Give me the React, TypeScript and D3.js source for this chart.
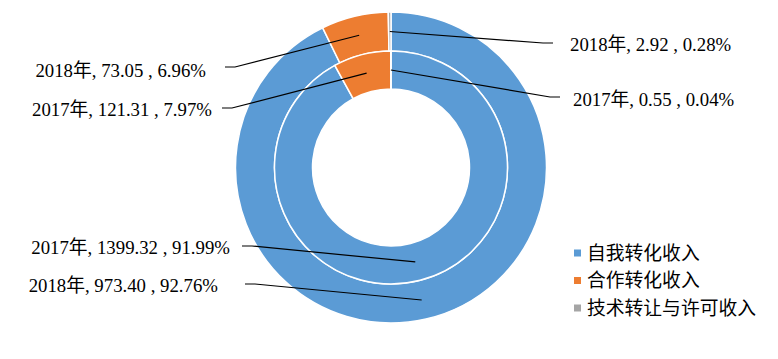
import React from "react";
import * as d3 from "d3";

const categories = ["自我转化收入", "合作转化收入", "技术转让与许可收入"];
const colors = ["#5B9BD5", "#ED7D31", "#A5A5A5"];
const values2017 = [1399.32, 121.31, 0.55];
const pct2017 = ["91.99%", "7.97%", "0.04%"];
const values2018 = [973.4, 73.05, 2.92];
const pct2018 = ["92.76%", "6.96%", "0.28%"];
const valueText2017 = ["1399.32", "121.31", "0.55"];
const valueText2018 = ["973.40", "73.05", "2.92"];

const W = 778;
const H = 359;
const cx = 391;
const cy = 167.5;
const rHole = 78.5;
const rMid = 116.5;
const rOuter = 155.5;

// label layout: [ring, index] -> label end point (line end), text anchor
const labelLayout = [
  { ring: "2018", i: 2, lx: 553, ly: 43, tx: 570, ty: 44, anchor: "start" },
  { ring: "2017", i: 2, lx: 560, ly: 97, tx: 573, ty: 99, anchor: "start" },
  { ring: "2018", i: 1, lx: 225, ly: 67, tx: 206, ty: 70, anchor: "end" },
  { ring: "2017", i: 1, lx: 222, ly: 108, tx: 212, ty: 109, anchor: "end" },
  { ring: "2017", i: 0, lx: 242, ly: 246, tx: 230, ty: 247, anchor: "end" },
  { ring: "2018", i: 0, lx: 245, ly: 284, tx: 218, ty: 285, anchor: "end" },
];

export default function App() {
  const pie = d3
    .pie<number>()
    .sort(null)
    .value((d) => d)
    .startAngle(0)
    .endAngle(2 * Math.PI);
  const arcs2017 = pie(values2017);
  const arcs2018 = pie(values2018);
  const arcInner = d3.arc<d3.PieArcDatum<number>>().innerRadius(rHole).outerRadius(rMid);
  const arcOuter = d3.arc<d3.PieArcDatum<number>>().innerRadius(rMid).outerRadius(rOuter);

  return (
    <svg
      width={W}
      height={H}
      style={{ position: "absolute", left: 0, top: 0, background: "#fff" }}
    >
      <g transform={`translate(${cx},${cy})`}>
        {arcs2018.map((a, i) => (
          <path key={"o" + i} d={arcOuter(a) || ""} fill={colors[i]} stroke="#fff" strokeWidth={1.5} />
        ))}
        {arcs2017.map((a, i) => (
          <path key={"i" + i} d={arcInner(a) || ""} fill={colors[i]} stroke="#fff" strokeWidth={1.5} />
        ))}
      </g>
      {labelLayout.map((l, k) => {
        const arcs = l.ring === "2017" ? arcs2017 : arcs2018;
        const gen = l.ring === "2017" ? arcInner : arcOuter;
        const [px, py] = gen.centroid(arcs[l.i]);
        const ax = cx + px;
        const ay = cy + py;
        const dir = l.anchor === "start" ? -1 : 1;
        const bx = l.lx + dir * 10;
        const valTxt = l.ring === "2017" ? valueText2017[l.i] : valueText2018[l.i];
        const pctTxt = l.ring === "2017" ? pct2017[l.i] : pct2018[l.i];
        return (
          <g key={"l" + k}>
            <path
              d={`M${ax},${ay}L${bx},${l.ly}L${l.lx},${l.ly}`}
              fill="none"
              stroke="#000"
              strokeWidth={1.2}
            />
            <text
              x={l.tx}
              y={l.ty}
              dy="0.35em"
              textAnchor={l.anchor as any}
              fontFamily="'Liberation Serif', 'Times New Roman', 'Noto Sans CJK SC', serif"
              fontSize={18.8}
              fill="#000"
            >
              {`${l.ring}年, ${valTxt} , ${pctTxt}`}
            </text>
          </g>
        );
      })}
      {categories.map((c, i) => (
        <g key={"lg" + i} transform={`translate(574,${253 + i * 27.5})`}>
          <rect x={0} y={-3.5} width={7} height={7} fill={colors[i]} />
          <text
            x={13}
            y={0}
            dy="0.36em"
            fontFamily="'Noto Sans CJK SC', sans-serif"
            fontSize={18.8}
            fill="#000"
          >
            {c}
          </text>
        </g>
      ))}
    </svg>
  );
}
